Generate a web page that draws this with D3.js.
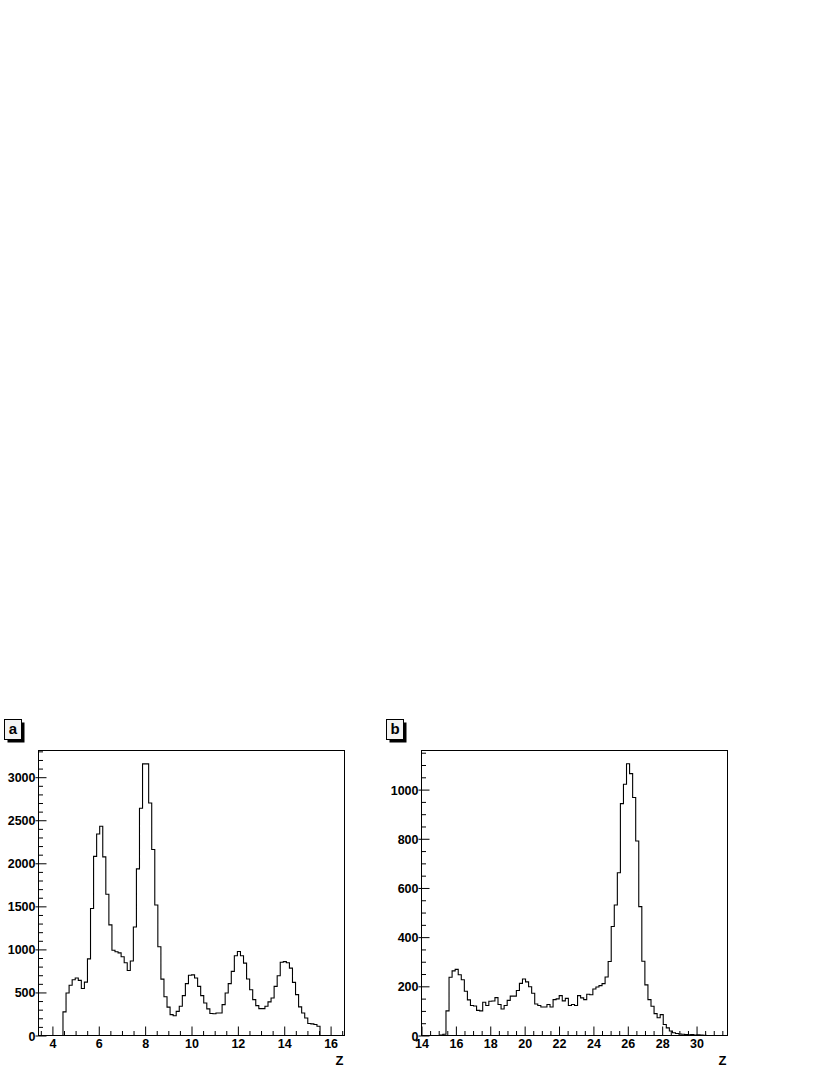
<!DOCTYPE html>
<html>
<head>
<meta charset="utf-8">
<script src="https://cdn.jsdelivr.net/npm/d3@7"></script>
<style>
  html, body { margin: 0; padding: 0; background: #fff; }
  svg { display: block; }
  text { font-family: "Liberation Sans", Arial, Helvetica, sans-serif; font-weight: bold; }
</style>
</head>
<body>
<svg id="chart" width="827" height="1071"></svg>
<script>
// ---------- DATA ----------
// Panel a: 100 bins over [3.4, 16.6]
const aRange = [3.4, 16.6];
const aYMax = 3310;
const aCounts = [
  0, 0, 0, 0, 0, 0, 0, 0, 274, 494,
  583, 648, 667, 640, 545, 620, 890, 1475, 2080, 2340,
  2430, 2075, 1640, 1285, 990, 972, 960, 915, 845, 755,
  865, 1260, 1935, 2640, 3155, 3155, 2700, 2160, 1515, 1030,
  655, 450, 330, 243, 230, 280, 340, 463, 602, 700,
  704, 667, 571, 463, 378, 309, 255, 252, 262, 262,
  359, 494, 602, 745, 926, 976, 926, 841, 656, 532,
  417, 347, 312, 312, 340, 390, 436, 571, 694, 850,
  858, 845, 783, 617, 475, 332, 262, 204, 139, 135,
  127, 108, 0, 0, 0, 0, 0, 0, 0, 0
];
const aXMajor = [4, 6, 8, 10, 12, 14, 16];
const aYMajor = [0, 500, 1000, 1500, 2000, 2500, 3000];

// Panel b: 100 bins over [14, 31.8]
const bRange = [14, 31.8];
const bYMax = 1159;
const bCounts = [
  0, 0, 0, 0, 0, 0, 2, 5, 100, 237,
  263, 269, 247, 227, 180, 145, 122, 120, 102, 100,
  135, 122, 139, 140, 154, 126, 108, 122, 143, 160,
  160, 183, 212, 230, 218, 198, 172, 128, 122, 116,
  116, 126, 116, 146, 149, 162, 141, 151, 122, 126,
  122, 162, 153, 146, 168, 166, 189, 197, 203, 211,
  238, 301, 443, 531, 662, 943, 1022, 1105, 1065, 968,
  791, 524, 302, 206, 146, 119, 89, 72, 85, 45,
  31, 18, 11, 8, 6, 5, 4, 3, 4, 2,
  3, 2, 1, 0, 0, 0, 0, 0, 0, 0
];
const bXMajor = [14, 16, 18, 20, 22, 24, 26, 28, 30];
const bYMajor = [0, 200, 400, 600, 800, 1000];

const panels = [
  { label: "a", range: aRange, ymax: aYMax, counts: aCounts, xMajor: aXMajor, yMajor: aYMajor,
    xMinorStep: 0.5, yMinorStep: 100, left: 38.5, right: 344.5, boxX: 4.5 },
  { label: "b", range: bRange, ymax: bYMax, counts: bCounts, xMajor: bXMajor, yMajor: bYMajor,
    xMinorStep: 0.5, yMinorStep: 50, left: 421.5, right: 727.5, boxX: 386.5 }
];

const plotTop = 750.5, plotBottom = 1035.5;
const svg = d3.select("#chart");
svg.append("rect").attr("width", 827).attr("height", 1071).attr("fill", "#fff");

function minorValues(lo, hi, step) {
  const out = [];
  const start = Math.ceil(lo / step - 1e-9);
  const end = Math.floor(hi / step + 1e-9);
  for (let i = start; i <= end; i++) out.push(+(i * step).toFixed(6));
  return out;
}

panels.forEach(p => {
  const x = d3.scaleLinear().domain(p.range).range([p.left, p.right]);
  const y = d3.scaleLinear().domain([0, p.ymax]).range([plotBottom, plotTop]);
  const g = svg.append("g");

  // frame
  g.append("rect")
    .attr("x", p.left).attr("y", plotTop)
    .attr("width", p.right - p.left).attr("height", plotBottom - plotTop)
    .attr("fill", "none").attr("stroke", "#000").attr("stroke-width", 1);

  // histogram
  const n = p.counts.length;
  const w = (p.range[1] - p.range[0]) / n;
  const pts = p.counts.map((c, i) => [p.range[0] + i * w, c]);
  pts.push([p.range[1], p.counts[n - 1]]);
  const line = d3.line().x(d => x(d[0])).y(d => y(d[1])).curve(d3.curveStepAfter);
  g.append("path").attr("d", line(pts))
    .attr("fill", "none").attr("stroke", "#000").attr("stroke-width", 1.1);

  // x axis major
  const xAxis = d3.axisBottom(x).tickValues(p.xMajor).tickSize(-9).tickPadding(4)
    .tickFormat(d3.format("d"));
  const gx = g.append("g").attr("transform", `translate(0,${plotBottom})`).call(xAxis);
  gx.select(".domain").remove();
  gx.selectAll("text").attr("font-size", 12.5).attr("fill", "#000")
    .attr("font-family", '"Liberation Sans", Arial, sans-serif').attr("font-weight", "bold");

  // x axis minor
  const xMinor = minorValues(p.range[0], p.range[1], p.xMinorStep)
    .filter(v => !p.xMajor.includes(v));
  const gxm = g.append("g").attr("transform", `translate(0,${plotBottom})`)
    .call(d3.axisBottom(x).tickValues(xMinor).tickSize(-4.5).tickFormat(""));
  gxm.select(".domain").remove();

  // y axis major (inside)
  const yAxis = d3.axisLeft(y).tickValues(p.yMajor).tickSize(-8).tickPadding(3)
    .tickFormat(d3.format("d"));
  const gy = g.append("g").attr("transform", `translate(${p.left},0)`).call(yAxis);
  gy.select(".domain").remove();
  gy.selectAll("text").attr("font-size", 12.5).attr("fill", "#000")
    .attr("font-family", '"Liberation Sans", Arial, sans-serif').attr("font-weight", "bold")
    .attr("dy", "0.36em");
  // small stub outside for major y ticks
  const gys = g.append("g").attr("transform", `translate(${p.left},0)`)
    .call(d3.axisLeft(y).tickValues(p.yMajor).tickSize(3).tickFormat(""));
  gys.select(".domain").remove();

  // y axis minor
  const yMinor = minorValues(0, p.ymax, p.yMinorStep).filter(v => !p.yMajor.includes(v));
  const gym = g.append("g").attr("transform", `translate(${p.left},0)`)
    .call(d3.axisLeft(y).tickValues(yMinor).tickSize(-4.5).tickFormat(""));
  gym.select(".domain").remove();

  g.selectAll(".tick line").attr("stroke", "#000").attr("stroke-width", 1);

  // axis title
  g.append("text").attr("x", p.right - 1).attr("y", 1065)
    .attr("text-anchor", "end").attr("font-size", 13).attr("fill", "#000").text("Z");

  // panel label box with shadow
  const bw = 17, bh = 20, by = 719.5;
  g.append("rect").attr("x", p.boxX + 3).attr("y", by + 3).attr("width", bw).attr("height", bh)
    .attr("fill", "#000");
  g.append("rect").attr("x", p.boxX).attr("y", by).attr("width", bw).attr("height", bh)
    .attr("fill", "#f4f4f4").attr("stroke", "#000").attr("stroke-width", 1);
  g.append("text").attr("x", p.boxX + bw / 2).attr("y", by + 14.5)
    .attr("text-anchor", "middle").attr("font-size", 15).attr("fill", "#000").text(p.label);
});
</script>
</body>
</html>
